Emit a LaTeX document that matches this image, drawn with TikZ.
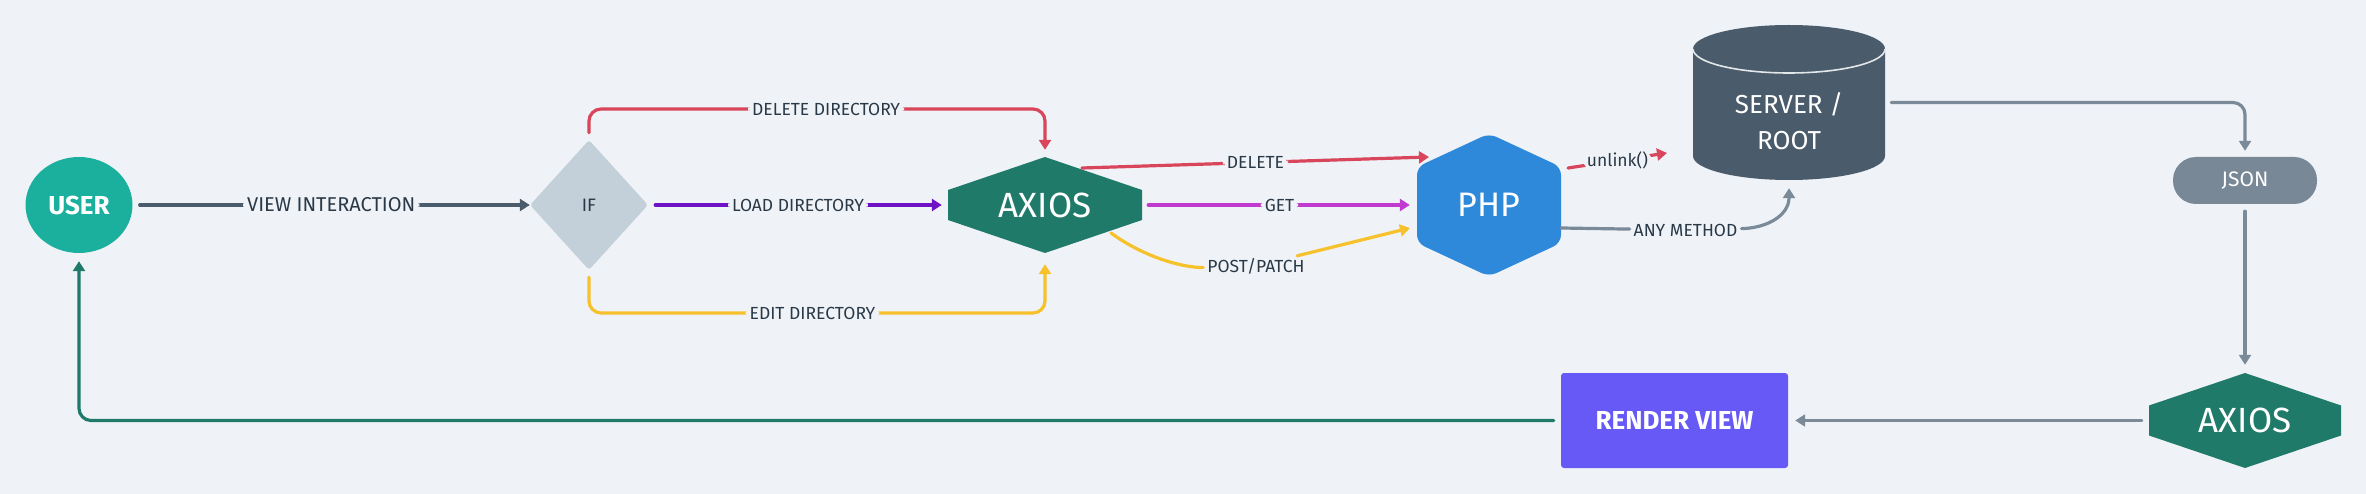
\documentclass[tikz,border=0pt]{standalone}
\usepackage{fontspec}
\setmainfont{Fira Sans}
\usetikzlibrary{arrows.meta,shapes.geometric,calc}
\definecolor{bg}{HTML}{EFF3F7}
\definecolor{txt}{HTML}{2A3947}
\definecolor{slate}{HTML}{4A5B6B}
\definecolor{gline}{HTML}{7A8A99}
\definecolor{redc}{HTML}{D9455A}
\definecolor{purp}{HTML}{6F12C6}
\definecolor{mag}{HTML}{C03AD0}
\definecolor{yel}{HTML}{F7C12B}
\definecolor{axg}{HTML}{207A69}
\definecolor{tealc}{HTML}{1BAF9E}
\definecolor{ifc}{HTML}{C3CFD9}
\definecolor{phpc}{HTML}{2E89DA}
\definecolor{rvc}{HTML}{6659F5}
\definecolor{jsonc}{HTML}{788896}
\begin{document}
\begin{tikzpicture}[x=1pt,y=-1pt,
  conn/.style={line width=3.2pt, line cap=round, rounded corners=12pt, -{Triangle[length=10pt,width=12pt]}},
  plain/.style={line width=3.2pt, line cap=round},
  lbl/.style={fill=bg, text=txt, inner xsep=4pt, inner ysep=2pt, font=\fontsize{17.5}{20}\selectfont},
  axhex/.style={minimum width=194pt, minimum height=96pt, inner sep=0pt, text=white,
    font=\fontsize{35}{40}\selectfont,
    path picture={\fill[axg] ([yshift=15pt]path picture bounding box.west) -- (path picture bounding box.north) -- ([yshift=15pt]path picture bounding box.east) -- ([yshift=-15pt]path picture bounding box.east) -- (path picture bounding box.south) -- ([yshift=-15pt]path picture bounding box.west) -- cycle;}},
  phphex/.style={minimum width=144pt, minimum height=143pt, inner sep=0pt, text=white,
    font=\fontsize{34}{40}\selectfont,
    path picture={\fill[phpc, rounded corners=8pt] ([yshift=38pt]path picture bounding box.west) -- (path picture bounding box.north) -- ([yshift=38pt]path picture bounding box.east) -- ([yshift=-38pt]path picture bounding box.east) -- (path picture bounding box.south) -- ([yshift=-38pt]path picture bounding box.west) -- cycle;}}
]
\fill[bg] (0,0) rectangle (2366,494);
\useasboundingbox (0,0) rectangle (2366,494);

% cylinder drawing
\fill[slate] (1693,49) -- (1693,156) arc[start angle=180,end angle=0,x radius=96,y radius=24] -- (1885,49) arc[start angle=0,end angle=-180,x radius=96,y radius=24] -- cycle;
\draw[white!85!slate, line width=1.6pt] (1693,49) arc[start angle=180,end angle=0,x radius=96,y radius=24];

% nodes
\node[ellipse, fill=tealc, minimum width=107pt, minimum height=96pt, inner sep=0pt, text=white, font=\bfseries\fontsize{26}{30}\selectfont] (user) at (79,205) {USER};
\node[diamond, fill=ifc, rounded corners=3pt, minimum width=118pt, minimum height=130pt, inner sep=0pt, text=txt, font=\fontsize{18}{20}\selectfont] (iff) at (589,205) {IF};
\node[axhex] (ax1) at (1045,205) {AXIOS};
\node[phphex] (php) at (1489,205) {PHP};
\node[minimum width=192pt, minimum height=155pt, inner sep=0pt] (srv) at (1789,102.5) {};
\node[text=white, align=center, font=\fontsize{26}{36.5}\selectfont] (srvt) at (1789,121) {SERVER /\\ROOT};
\node[fill=jsonc, rounded corners=23pt, minimum width=144pt, minimum height=47pt, text=white, font=\fontsize{21}{24}\selectfont] (json) at (2245,180.5) {JSON};
\node[axhex, minimum width=192pt, minimum height=95pt] (ax2) at (2245,420.5) {AXIOS};
\node[fill=rvc, rounded corners=3pt, minimum width=227pt, minimum height=95pt, text=white, font=\bfseries\fontsize{26}{30}\selectfont] (rv) at (1674.5,420.5) {RENDER VIEW};

\coordinate (topy) at (0,109);
\coordinate (boty) at (0,313);
\coordinate (unl) at (1667,153);

% connectors
\draw[conn, slate, shorten <=7pt] (user) -- node[lbl, font=\fontsize{20}{24}\selectfont]{VIEW INTERACTION} (iff);
\draw[conn, redc, shorten <=7pt, shorten >=7pt] (iff.north) -- (iff.north |- topy) -- node[lbl, pos=0.52]{DELETE DIRECTORY} (ax1.north |- topy) -- (ax1.north);
\draw[conn, yel, shorten <=7pt, shorten >=11pt] (iff.south) -- (iff.south |- boty) -- node[lbl, pos=0.49]{EDIT DIRECTORY} (ax1.south |- boty) -- (ax1.south);
\draw[conn, purp, shorten <=7pt, shorten >=6pt] (iff.east) -- node[lbl]{LOAD DIRECTORY} (ax1.west);

\draw[conn, redc] ([xshift=37pt,yshift=37pt]ax1.center) -- node[lbl]{DELETE} ([xshift=-60pt,yshift=48pt]php.center);
\draw[conn, mag, shorten <=6pt, shorten >=7pt] (ax1.east) -- node[lbl]{GET} (php.west);
\node[lbl] (pp) at (1256,266) {POST/PATCH};
\draw[plain, yel] ([xshift=66pt,yshift=-28pt]ax1.center) .. controls (1145,258) and (1185,268) .. (pp);
\draw[conn, yel] (pp) -- ([xshift=-79pt,yshift=-23pt]php.center);

\draw[conn, redc] ([xshift=79pt,yshift=37pt]php.center) -- node[lbl]{unlink()} (unl);
\node[lbl] (am) at (1685.5,230) {ANY METHOD};
\draw[plain, gline] ([xshift=72pt,yshift=-23pt]php.center) -- (am);
\draw[conn, gline, shorten >=8pt] (am) .. controls (1768,228) and (1789,215) .. (srv.south);

\draw[conn, gline, shorten <=6pt, shorten >=6pt] (srv.east) -| (json.north);
\draw[conn, gline, shorten <=7pt, shorten >=8pt] (json.south) -- (ax2.north);
\draw[conn, gline, shorten <=7pt, shorten >=7pt] (ax2.west) -- (rv.east);
\draw[conn, axg, shorten <=7pt, shorten >=8pt] (rv.west) -| (user.south);
\end{tikzpicture}
\end{document}
